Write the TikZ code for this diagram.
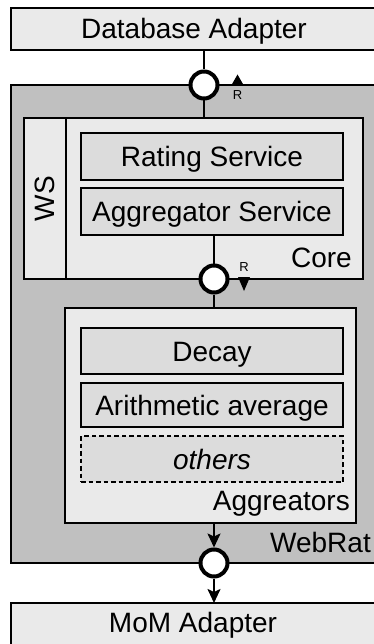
\documentclass[tikz,border=0pt]{standalone}
\usepackage{fontspec}
\setmainfont{Liberation Sans}
\usetikzlibrary{arrows.meta}
\definecolor{webgray}{RGB}{192,192,192}
\definecolor{panel}{RGB}{234,234,234}
\definecolor{service}{RGB}{220,220,220}

\tikzset{
  block/.style={draw=black, line width=2pt, outer sep=0pt, inner sep=0pt,
    anchor=north west, font=\fontsize{28}{30}\selectfont,
    text height=20pt, text depth=0pt},
  panelbox/.style={block, fill=panel},
  servicebox/.style={block, fill=service},
  otherbox/.style={block, fill=service, dash pattern=on 4.5pt off 3pt,
    font=\fontsize{28}{30}\selectfont\itshape},
  ring/.style={circle, draw=black, line width=4pt, fill=white,
    minimum size=27pt, inner sep=0pt},
  label/.style={font=\fontsize{28}{30}\selectfont, inner sep=0pt, anchor=base east},
  tinylabel/.style={font=\fontsize{13}{14}\selectfont, inner sep=0pt},
  conn/.style={line width=2pt},
  flow/.style={line width=2pt, -{Stealth[length=14pt,width=13pt,inset=3pt]}}
}

\begin{document}
\begin{tikzpicture}[x=1pt,y=-1pt]
\useasboundingbox (0,0) rectangle (374,644);
\clip (0,0) rectangle (374,644);

% adapters outside the component
\node[panelbox, minimum width=366pt, minimum height=42pt] (dba) at (11,8) {Database Adapter};
\node[panelbox, minimum width=366pt, minimum height=60pt] (mom) at (11,603) {};
\node[label, anchor=base] (momtext) at (193,632) {MoM Adapter};

% WebRat component
\node[block, fill=webgray, minimum width=366pt, minimum height=478pt] (webrat) at (11,85) {};
\node[label] (webratlbl) at (371,552) {WebRat};

% Core with its web service column
\node[panelbox, minimum width=339pt, minimum height=161pt] (core) at (24,118) {};
\coordinate (wstop) at (66,118);
\coordinate (wsbot) at (66,279);
\draw[conn] (wstop) -- (wsbot);
\node[font=\fontsize{28}{30}\selectfont, rotate=90, inner sep=0pt] (ws) at (45,198.5) {WS};
\node[servicebox, minimum width=262pt, minimum height=47pt] (rating) at (81,133) {Rating Service};
\node[servicebox, minimum width=262pt, minimum height=47pt] (aggsvc) at (81,188) {Aggregator Service};
\node[label] (corelbl) at (352,267) {Core};

% Aggregators
\node[panelbox, minimum width=291pt, minimum height=215pt] (aggs) at (65,308) {};
\node[servicebox, minimum width=262pt, minimum height=46pt] (decay) at (81,328) {Decay};
\node[servicebox, minimum width=262pt, minimum height=44pt] (arith) at (81,383) {Arithmetic average};
\node[otherbox, minimum width=262pt, minimum height=46pt] (others) at (81,436) {others};
\node[label] (aggslbl) at (350,510) {Aggreators};

% provided/required interfaces
\node[ring] (ifdb) at (204,85) {};
\node[ring] (ifcore) at (214,279) {};
\node[ring] (ifmom) at (214,563) {};

\draw[conn] (ifdb |- dba.south) -- (ifdb.north);
\draw[conn] (ifdb.south) -- (ifdb |- core.north);
\draw[conn] (ifcore |- aggsvc.south) -- (ifcore.north);
\draw[conn] (ifcore.south) -- (ifcore |- aggs.north);
\draw[flow] (ifmom |- aggs.south) -- (ifmom.north);
\draw[flow] (ifmom.south) -- (ifmom |- mom.north);

% direction markers
\fill (231.5,85) -- (243.5,85) -- (237.5,74.5) -- cycle;
\node[tinylabel] (rtop) at (237.5,95) {R};
\node[tinylabel] (rmid) at (244,267) {R};
\fill (238,277) -- (250,277) -- (244,291) -- cycle;
\end{tikzpicture}
\end{document}
